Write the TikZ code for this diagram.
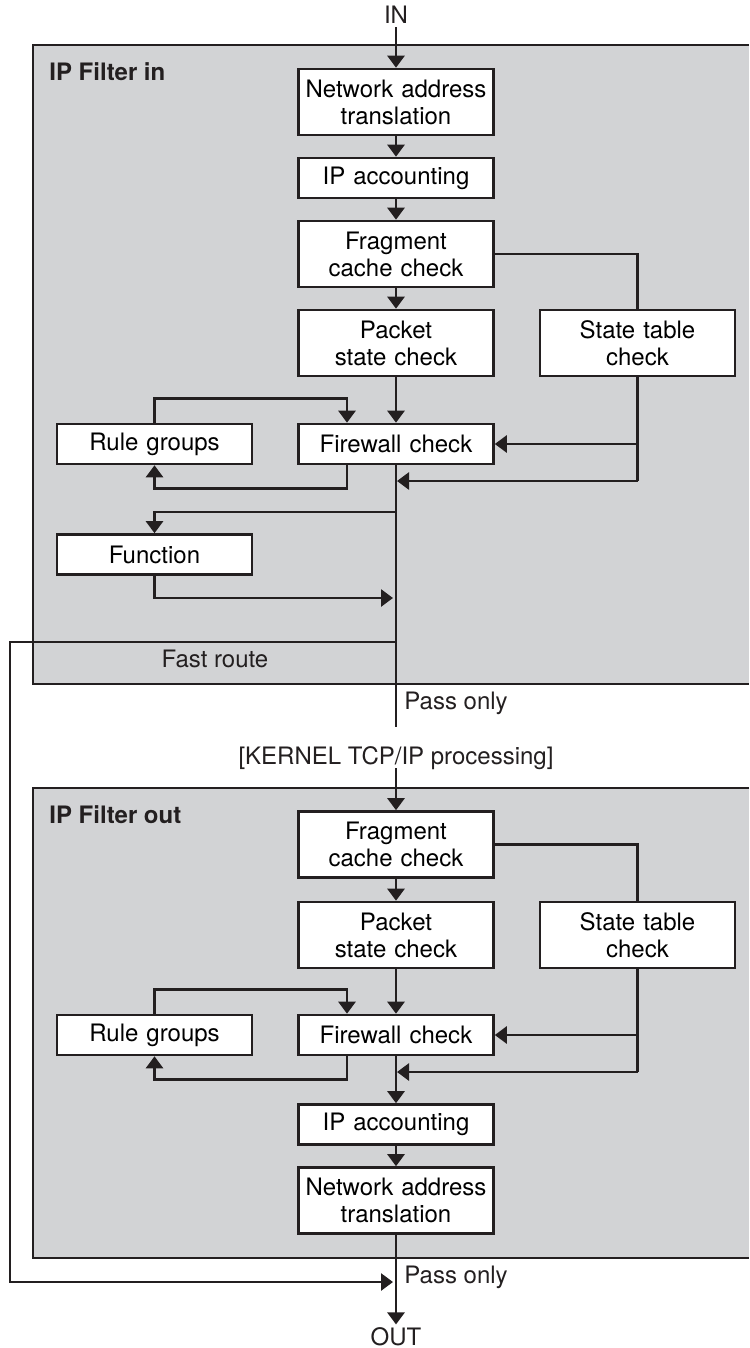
\documentclass[tikz,border=0pt]{standalone}
\usepackage{fontspec}
\setmainfont{TeX Gyre Heros}
\usetikzlibrary{arrows.meta}

\definecolor{panelgray}{RGB}{210,211,213}
\definecolor{ink}{RGB}{35,31,32}

\tikzset{
    box/.style={draw=ink, fill=white, line width=1.3pt, minimum width=97.5pt,
        minimum height=20pt, text width=92pt, align=center, inner sep=0pt,
        font=\fontsize{12}{13.5}\selectfont},
    tall/.style={box, minimum height=33pt},
    lbl/.style={inner sep=1.5pt, text=ink, font=\fontsize{12}{13.5}\selectfont},
    title/.style={lbl, anchor=west, font=\fontsize{12}{13.5}\selectfont\bfseries},
    wire/.style={draw=ink, line width=1.35pt},
    flow/.style={wire, -{Triangle[length=6pt,width=8.5pt]}},
    panel/.style={draw=ink, line width=0.8pt},
}

\begin{document}
\begin{tikzpicture}[x=0.5pt,y=-0.5pt]
        \useasboundingbox (0,0) rectangle (749,1348);

        % IP Filter in
        \fill[panelgray] (33,45) rectangle (749,684);
        \draw[panel] (749,45) -| (33,684) -- (749,684);
        \node[title] (ttli) at (46,72) {IP Filter in};

        \node[lbl] (in) at (396,15) {IN};
        \node[tall] (nati) at (396,102) {Network address\\translation};
        \node[box] (acci) at (396,178) {IP accounting};
        \node[tall] (fragi) at (396,254) {Fragment\\cache check};
        \node[tall] (pkti) at (396,343) {Packet\\state check};
        \node[tall] (sti) at (637.5,343) {State table\\check};
        \node[box] (fwi) at (396,444) {Firewall check};
        \node[box] (rgi) at (154.5,444) {Rule groups};
        \node[box] (fni) at (154.5,554.5) {Function};
        \node[lbl] (fast) at (215,659) {Fast route};
        \node[lbl, anchor=west] (passi) at (401,703) {Pass only};
        \node[lbl] (kernel) at (396,758) {[KERNEL TCP/IP processing]};

        \coordinate (sji) at (637.5,444);
        \coordinate (ski) at (637.5,481);
        \coordinate (mji) at (397,481);
        \coordinate (fbi) at (396,512);
        \coordinate (fei) at (393,598);
        \coordinate (fsi) at (396,642);
        \coordinate (mendi) at (396,727);

        \draw[flow] (in) -- (nati);
        \draw[flow] (nati) -- (acci);
        \draw[flow] (acci) -- (fragi);
        \draw[flow] (fragi) -- (pkti);
        \draw[flow] (pkti) -- (fwi);
        \draw[wire] (fragi.east) -| (sti.north);
        \draw[wire] (sti.south) -- (ski);
        \draw[flow] (sji) -- (fwi.east);
        \draw[flow] (ski) -- (mji);
        \draw[flow] (rgi.north) -- ++(0,-24) -| ([xshift=-24.5pt]fwi.north);
        \draw[flow] ([xshift=-24.5pt]fwi.south) -- ++(0,23) -| (rgi.south);
        \draw[wire] (fwi.south) -- (mendi);
        \draw[flow] (fbi) -| (fni.north);
        \draw[flow] (fni.south) |- (fei);

        % IP Filter out
        \fill[panelgray] (33,788) rectangle (749,1258);
        \draw[panel] (749,788) -| (33,1258) -- (749,1258);
        \node[title] (ttlo) at (46,815) {IP Filter out};

        \node[tall] (frago) at (396,844.5) {Fragment\\cache check};
        \node[tall] (pkto) at (396,935) {Packet\\state check};
        \node[tall] (sto) at (637.5,935) {State table\\check};
        \node[box] (fwo) at (396,1035) {Firewall check};
        \node[box] (rgo) at (154.5,1035) {Rule groups};
        \node[box] (acco) at (396,1124.5) {IP accounting};
        \node[tall] (nato) at (396,1200.5) {Network address\\translation};
        \node[lbl, anchor=west] (passo) at (401,1277) {Pass only};
        \node[lbl] (out) at (396,1337) {OUT};

        \coordinate (kstart) at (396,768);
        \coordinate (sjo) at (637.5,1035);
        \coordinate (sko) at (637.5,1072);
        \coordinate (mjo) at (397,1072);
        \coordinate (fso) at (393,1282);

        \draw[flow] (kstart) -- (frago);
        \draw[flow] (frago) -- (pkto);
        \draw[flow] (pkto) -- (fwo);
        \draw[wire] (frago.east) -| (sto.north);
        \draw[wire] (sto.south) -- (sko);
        \draw[flow] (sjo) -- (fwo.east);
        \draw[flow] (sko) -- (mjo);
        \draw[flow] (rgo.north) -- ++(0,-24) -| ([xshift=-24.5pt]fwo.north);
        \draw[flow] ([xshift=-24.5pt]fwo.south) -- ++(0,23) -| (rgo.south);
        \draw[flow] (fwo) -- (acco);
        \draw[flow] (acco) -- (nato);
        \draw[flow] (nato) -- (out);

        % fast route
        \draw[flow] (fsi) -| (10,1282) -- (fso);
\end{tikzpicture}
\end{document}
